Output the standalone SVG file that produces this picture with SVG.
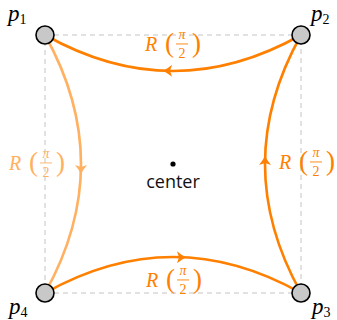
<svg xmlns="http://www.w3.org/2000/svg" width="337" height="320" viewBox="0 0 337 320">
<style>
.guide{fill:none;stroke:#c4c4c4;stroke-width:1;stroke-dasharray:5,4}
.arc{fill:none;stroke-width:2.6}
.dark{stroke:#ff8000}
.light{stroke:#ffb060}
.hd{fill:#ff8000}
.hl{fill:#ffb060}
.pt{fill:#c8c8c8;stroke:#000;stroke-width:1.6}
.mi{font-family:"Liberation Serif",serif;font-style:italic}
.rm{font-family:"Liberation Serif",serif}
.ctr{font-family:"Open Sans","DejaVu Sans",sans-serif;font-size:18px;fill:#111}
</style>
<defs>
<path id="ah" d="M0,0 C-3,-1.5 -6,-3.5 -9,-6 L-7,0 L-9,6 C-6,3.5 -3,1.5 0,0 Z"/>
<g id="rlab">
<text class="mi" x="-1" y="0" font-size="20">R</text>
<text class="rm" x="19" y="1" font-size="27">(</text>
<text class="mi" x="36" y="-12" font-size="14" text-anchor="middle">π</text>
<rect x="30" y="-7.5" width="12" height="0.9"/>
<text class="rm" x="36" y="6.5" font-size="14" text-anchor="middle">2</text>
<text class="rm" x="46" y="1" font-size="27">)</text>
</g>
</defs>
<rect class="guide" x="45" y="35" width="256" height="258"/>
<g id="connectors">
<path class="arc dark" d="M301,35 Q173,107 45,35"/>
<use href="#ah" class="hd" transform="translate(163,70.8) rotate(180)"/>
<path class="arc light" d="M45,35 Q117,164 45,293"/>
<use href="#ah" class="hl" transform="translate(81,174) rotate(90)"/>
<path class="arc dark" d="M301,293 Q229,164 301,35"/>
<use href="#ah" class="hd" transform="translate(265,156) rotate(-90)"/>
<path class="arc dark" d="M45,293 Q173,221 301,293"/>
<use href="#ah" class="hd" transform="translate(186,257.3)"/>
</g>
<g id="label-top" fill="#ff8000"><use href="#rlab" transform="translate(146,51)"/></g>
<g id="label-left" fill="#ffb060"><use href="#rlab" transform="translate(10,170)"/></g>
<g id="label-right" fill="#ff8000"><use href="#rlab" transform="translate(280,169)"/></g>
<g id="label-bottom" fill="#ff8000"><use href="#rlab" transform="translate(147,287)"/></g>
<g id="center">
<circle cx="173" cy="164" r="2.6" fill="#000"/>
<text class="ctr" x="173" y="188" text-anchor="middle">center</text>
</g>
<g id="p1">
<circle class="pt" cx="45" cy="35" r="9"/>
<text class="mi" x="8" y="21" font-size="23">p<tspan font-size="14" font-style="normal" dy="3">1</tspan></text>
</g>
<g id="p2">
<circle class="pt" cx="301" cy="35" r="9"/>
<text class="mi" x="311" y="21" font-size="23">p<tspan font-size="14" font-style="normal" dy="3">2</tspan></text>
</g>
<g id="p3">
<circle class="pt" cx="301" cy="293" r="9"/>
<text class="mi" x="312" y="314" font-size="23">p<tspan font-size="14" font-style="normal" dy="3">3</tspan></text>
</g>
<g id="p4">
<circle class="pt" cx="45" cy="293" r="9"/>
<text class="mi" x="9" y="314" font-size="23">p<tspan font-size="14" font-style="normal" dy="3">4</tspan></text>
</g>
</svg>
